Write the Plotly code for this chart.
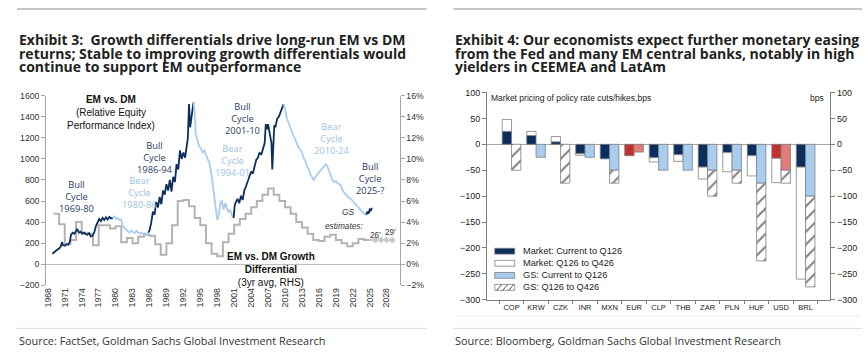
import plotly.graph_objects as go

W, H = 868, 357

# ---------------- Left chart data (Exhibit 3) ----------------
bull_1969_80_x = [1968.8, 1969.1, 1969.4, 1969.7, 1970.0, 1970.3, 1970.5, 1970.7, 1971.0, 1971.3, 1971.6, 1971.9,
                  1972.1, 1972.4, 1972.7, 1973.0, 1973.2, 1973.5, 1973.8, 1974.1, 1974.4, 1974.7, 1975.0, 1975.3,
                  1975.6, 1975.9, 1976.2, 1976.5, 1976.8, 1977.1, 1977.4, 1977.7, 1978.0, 1978.3, 1978.6, 1978.9,
                  1979.2, 1979.5]
bull_1969_80_y = [100, 115, 125, 140, 150, 170, 210, 180, 175, 190, 185, 215,
                  280, 300, 290, 320, 335, 300, 310, 290, 300, 285, 280, 295,
                  265, 270, 300, 360, 400, 430, 410, 440, 420, 445, 425, 450,
                  435, 440]

bear_1980_86_x = [1979.5, 1979.8, 1980.1, 1980.4, 1980.7, 1981.0, 1981.3, 1981.6, 1981.9, 1982.2, 1982.5, 1982.8,
                  1983.1, 1983.4, 1983.7, 1984.0, 1984.3, 1984.6, 1984.9, 1985.2, 1985.5, 1985.8]
bear_1980_86_y = [440, 455, 430, 440, 420, 425, 360, 340, 330, 310, 300, 320,
                  305, 295, 315, 300, 290, 300, 285, 295, 280, 300]

bull_1986_94_x = [1985.8, 1986.0, 1986.3, 1986.6, 1986.9, 1987.2, 1987.5, 1987.8, 1988.1, 1988.4, 1988.7, 1989.0,
                  1989.3, 1989.6, 1989.9, 1990.2, 1990.5, 1990.8, 1991.1, 1991.4, 1991.7, 1992.0, 1992.3, 1992.6,
                  1992.8, 1993.0, 1993.2, 1993.4, 1993.6, 1993.8]
bull_1986_94_y = [300, 320, 390, 500, 470, 590, 540, 640, 570, 700, 660, 760,
                  700, 800, 690, 830, 780, 950, 900, 1080, 1000, 1060, 1010, 1100,
                  1200, 1520, 1300, 1380, 1480, 1540]

bear_1994_01_x = [1993.8, 1994.0, 1994.2, 1994.5, 1994.8, 1995.1, 1995.4, 1995.7, 1996.0, 1996.3, 1996.6, 1996.9,
                  1997.2, 1997.5, 1997.8, 1998.0, 1998.2, 1998.5, 1998.8, 1999.1, 1999.4, 1999.7, 2000.0, 2000.3,
                  2000.6, 2000.9]
bear_1994_01_y = [1540, 1450, 1230, 1180, 1120, 1100, 1060, 1080, 1030, 1000, 960, 880,
                  760, 620, 500, 420, 450, 560, 610, 520, 580, 540, 490, 520,
                  460, 440]

bull_2001_10_x = [2000.9, 2001.1, 2001.3, 2001.6, 2001.9, 2002.2, 2002.5, 2002.8, 2003.1, 2003.4, 2003.7, 2004.0,
                  2004.3, 2004.6, 2004.9, 2005.2, 2005.5, 2005.8, 2006.1, 2006.4, 2006.6, 2006.8, 2007.0, 2007.2,
                  2007.4, 2007.6, 2007.75, 2007.9, 2008.1, 2008.3, 2008.6, 2008.9, 2009.2, 2009.5, 2009.75]
bull_2001_10_y = [440, 560, 590, 620, 580, 650, 610, 700, 740, 790, 820, 880,
                  860, 940, 990, 1010, 1060, 1040, 1100, 1150, 1330, 1280, 1330, 1270,
                  1240, 1150, 900, 1100, 1320, 1300, 1380, 1400, 1440, 1480, 1520]

bear_2010_24_x = [2009.75, 2010.0, 2010.3, 2010.6, 2010.9, 2011.2, 2011.5, 2011.8, 2012.1, 2012.4, 2012.7, 2013.0,
                  2013.3, 2013.6, 2013.9, 2014.2, 2014.5, 2014.8, 2015.1, 2015.4, 2015.7, 2016.0, 2016.3, 2016.6,
                  2016.9, 2017.2, 2017.5, 2017.8, 2018.1, 2018.4, 2018.7, 2019.0, 2019.3, 2019.6, 2019.9, 2020.2,
                  2020.5, 2020.8, 2021.1, 2021.4, 2021.7, 2022.0, 2022.3, 2022.6, 2022.9, 2023.2, 2023.5, 2023.8,
                  2024.1, 2024.4]
bear_2010_24_y = [1520, 1480, 1390, 1340, 1300, 1260, 1220, 1180, 1150, 1110, 1090, 1060,
                  1010, 980, 930, 900, 850, 820, 800, 830, 850, 860, 880, 900,
                  920, 950, 930, 880, 840, 800, 780, 790, 770, 760, 750, 700,
                  680, 650, 640, 630, 620, 600, 580, 560, 540, 530, 510, 490,
                  480, 470]

bull_2025_x = [2024.4, 2024.6, 2024.8, 2025.0, 2025.2, 2025.4]
bull_2025_y = [470, 500, 480, 520, 510, 535]

growth_years = list(range(1969, 2026))
growth_vals = [4.8, 3.8, 1.9, 2.3, 4.0, 3.0, 2.9, 1.8, 3.7, 3.7, 3.4, 3.6,
               2.1, 2.5, 2.0, 2.6, 2.8, 2.7, 1.9, 0.9, 2.0, 3.7, 6.0, 6.1,
               5.5, 4.4, 3.7, 2.0, 1.0, 0.75, 2.1, 2.9, 3.75, 4.3, 4.8, 5.4,
               6.0, 6.6, 7.2, 6.6, 6.0, 5.4, 4.8, 4.0, 3.5, 2.9, 2.3, 2.2,
               2.6, 2.8, 2.3, 2.0, 1.7, 2.0, 2.4, 2.3, 2.3]
est_years = [2025, 2026, 2027, 2028, 2029]
est_vals = [2.3, 2.3, 2.3, 2.3, 2.3]

year_ticks = list(range(1968, 2029, 3))

# ---------------- Right chart data (Exhibit 4) ----------------
categories = ['COP', 'KRW', 'CZK', 'INR', 'MXN', 'EUR', 'CLP', 'THB', 'ZAR', 'PLN', 'HUF', 'USD', 'BRL']
mkt_current_q126 = [25, 17, 5, -18, -28, -22, -26, -20, -44, -16, -22, -27, -44]
mkt_q126_q426 = [23, 8, 10, -3, 0, 0, -8, -13, -23, -37, -39, -47, -216]
gs_current_q126 = [0, -25, 0, -25, -50, -15, -50, -50, -50, -50, -75, -50, -100]
gs_q126_q426 = [-50, 0, -75, 0, -25, 0, 0, 0, -50, -25, -150, -25, -175]
dm_highlight = ['EUR', 'USD']

NAVY = '#0b2e5c'
LBLUE = '#a9cdee'
NAVY_TXT = '#1f3c66'
LBLUE_TXT = '#9cc3e6'
GRAY = '#b3b3b3'
RED = '#c3302f'
LRED = '#e37b7a'
AX = '#a6a6a6'
TICKF = dict(family='Liberation Sans, Arial, sans-serif', size=8.7, color='#333333')


def nz(v):
    return [None if a == 0 else a for a in v]


def px(x):
    return x / W


def py(y):
    return 1 - y / H


fig = go.Figure()

# growth differential (base y axis, right side, %)
fig.add_trace(go.Scatter(x=growth_years, y=growth_vals, mode='lines', line=dict(color=GRAY, width=2, shape='hv'),
                         xaxis='x', yaxis='y', showlegend=False, hoverinfo='skip'))
fig.add_trace(go.Scatter(x=est_years, y=est_vals, mode='lines+markers',
                         line=dict(color=GRAY, width=2, dash='dot'),
                         marker=dict(symbol='diamond', size=[0, 6, 6, 6, 6], color=GRAY),
                         xaxis='x', yaxis='y', showlegend=False, hoverinfo='skip'))

segments = [(bull_1969_80_x, bull_1969_80_y, NAVY), (bear_1980_86_x, bear_1980_86_y, LBLUE),
            (bull_1986_94_x, bull_1986_94_y, NAVY), (bear_1994_01_x, bear_1994_01_y, LBLUE),
            (bull_2001_10_x, bull_2001_10_y, NAVY), (bear_2010_24_x, bear_2010_24_y, LBLUE),
            (bull_2025_x, bull_2025_y, NAVY)]
for xs, ys, c in segments:
    fig.add_trace(go.Scatter(x=xs, y=ys, mode='lines', line=dict(color=c, width=1.8),
                             xaxis='x', yaxis='y2', showlegend=False, hoverinfo='skip'))

# ---------------- bars ----------------
mkt_cols = [RED if c in dm_highlight else NAVY for c in categories]
gs_cols = [LRED if c in dm_highlight else LBLUE for c in categories]
BW = 0.38
line = dict(color='#7f7f7f', width=0.8)
fig.add_trace(go.Bar(x=categories, y=nz(mkt_current_q126), width=BW, offset=-BW, marker=dict(color=mkt_cols, line=line),
                     xaxis='x3', yaxis='y3', name='Market: Current to Q126', showlegend=False))
fig.add_trace(go.Bar(x=categories, y=nz(mkt_q126_q426), base=mkt_current_q126, width=BW, offset=-BW,
                     marker=dict(color='white', line=line),
                     xaxis='x3', yaxis='y3', name='Market: Q126 to Q426', showlegend=False))
fig.add_trace(go.Bar(x=categories, y=nz(gs_current_q126), width=BW, offset=0, marker=dict(color=gs_cols, line=line),
                     xaxis='x3', yaxis='y3', name='GS: Current to Q126', showlegend=False))
fig.add_trace(go.Bar(x=categories, y=nz(gs_q126_q426), base=gs_current_q126, width=BW, offset=0,
                     marker=dict(color='white', line=line,
                                 pattern=dict(shape='/', fgcolor='#000000', bgcolor='white', size=9, solidity=0.22)),
                     xaxis='x3', yaxis='y3', name='GS: Q126 to Q426', showlegend=False))
fig.add_trace(go.Scatter(x=[categories[0]], y=[0], mode='markers', marker=dict(opacity=0),
                         xaxis='x3', yaxis='y4', showlegend=False, hoverinfo='skip'))

# ---------------- layout ----------------
ldom_x = [px(43.3), px(398)]
ldom_y = [py(288.4), py(93.3)]
rdom_x = [px(485.7), px(830)]
rdom_y = [py(303.3), py(90)]

fig.update_layout(
    width=W, height=H, margin=dict(l=0, r=0, t=0, b=0),
    paper_bgcolor='white', plot_bgcolor='white', barmode='overlay', showlegend=False,
    xaxis=dict(domain=ldom_x, range=[1967.7, 2030.3], tickvals=year_ticks, tickangle=-90,
               showgrid=False, zeroline=False, showline=False, ticks='', tickfont=TICKF, anchor='y'),
    yaxis=dict(domain=ldom_y, range=[-2, 16], dtick=2, ticksuffix='%', side='right', anchor='x',
               showgrid=False, zeroline=True, zerolinecolor='#bfbfbf', zerolinewidth=1,
               showline=True, linecolor=AX, ticks='outside', ticklen=4, tickcolor=AX, tickfont=TICKF),
    yaxis2=dict(range=[-200, 1600], dtick=200, side='left', overlaying='y', anchor='x',
                showgrid=False, zeroline=False, showline=True, linecolor=AX,
                ticks='outside', ticklen=4, tickcolor=AX, tickfont=TICKF),
    xaxis3=dict(domain=rdom_x, range=[-1, 13], type='category', anchor='y3', showgrid=False,
                showline=True, linecolor='#7f7f7f', ticks='outside', tickson='boundaries', ticklen=3,
                tickangle=0, tickcolor='#7f7f7f',
                tickfont=dict(family='Liberation Sans, Arial, sans-serif', size=7.5, color='#222')),
    yaxis3=dict(domain=rdom_y, range=[-300, 100], dtick=50, anchor='x3', showgrid=False,
                zeroline=True, zerolinecolor='#a6a6a6', zerolinewidth=1,
                showline=True, linecolor='#7f7f7f', ticks='outside', ticklen=4, tickcolor='#7f7f7f',
                tickfont=dict(family='Liberation Sans, Arial, sans-serif', size=9, color='#222')),
    yaxis4=dict(range=[-300, 100], dtick=50, overlaying='y3', side='right', anchor='x3', showgrid=False,
                zeroline=False, showline=True, linecolor='#7f7f7f', ticks='outside', ticklen=4,
                tickcolor='#7f7f7f', tickfont=dict(family='Liberation Sans, Arial, sans-serif', size=9, color='#222')),
)

ann = []
TF = dict(family='Open Sans, sans-serif', size=14, color='#222222', weight=700)
left_title = ['Exhibit 3:  Growth differentials drive long-run EM vs DM',
              'returns; Stable to improving growth differentials would',
              'continue to support EM outperformance']
right_title = ['Exhibit 4: Our economists expect further monetary easing',
               'from the Fed and many EM central banks, notably in high',
               'yielders in CEEMEA and LatAm']
for i, (lt, rt) in enumerate(zip(left_title, right_title)):
    yy = 36 + i * 13.7
    ann.append(dict(text=lt, x=px(14), y=py(yy), xanchor='left', yanchor='middle', font=TF))
    ann.append(dict(text=rt, x=px(452), y=py(yy), xanchor='left', yanchor='middle', font=TF))

SF = dict(family='Open Sans, sans-serif', size=10.9, color='#333333')
ann.append(dict(text='Source: FactSet, Goldman Sachs Global Investment Research', x=px(14), y=py(345),
                xanchor='left', yanchor='middle', font=SF))
ann.append(dict(text='Source: Bloomberg, Goldman Sachs Global Investment Research', x=px(452), y=py(345),
                xanchor='left', yanchor='middle', font=SF))

CF = 'Open Sans, sans-serif'
cycles = [('Bull<br>Cycle<br>1969-80', 74, 197, NAVY_TXT), ('Bear<br>Cycle<br>1980-86', 137.3, 193, LBLUE_TXT),
          ('Bull<br>Cycle<br>1986-94', 152.7, 157, NAVY_TXT), ('Bear<br>Cycle<br>1994-01', 230.7, 160, LBLUE_TXT),
          ('Bull<br>Cycle<br>2001-10', 240, 116.7, NAVY_TXT), ('Bear<br>Cycle<br>2010-24', 330, 137.7, LBLUE_TXT),
          ('Bull<br>Cycle<br>2025-?', 368.3, 178, NAVY_TXT)]
for t, x, y, c in cycles:
    ann.append(dict(text=t, x=px(x), y=py(y), xanchor='center', yanchor='middle',
                    font=dict(family=CF, size=9.3, color=c)))

AF = 'Liberation Sans, Arial, sans-serif'
ann.append(dict(text='<b>EM vs. DM</b><br>(Relative Equity<br>Performance Index)', x=px(108), y=py(111),
                xanchor='center', yanchor='middle', font=dict(family=AF, size=10, color='#111')))
ann.append(dict(text='<b>EM vs. DM Growth</b><br><b>Differential</b><br>(3yr avg, RHS)', x=px(269), y=py(272),
                xanchor='center', yanchor='middle', font=dict(family=AF, size=10, color='#111')))
ann.append(dict(text='<i>GS</i>', x=px(346.7), y=py(212.7), xanchor='center', yanchor='middle',
                font=dict(family=AF, size=8.5, color='#333')))
ann.append(dict(text='<i>estimates:</i>', x=px(342), y=py(227), xanchor='center', yanchor='middle',
                font=dict(family=AF, size=8.3, color='#333')))
ann.append(dict(text="26'", x=px(374), y=py(237), xanchor='center', yanchor='middle',
                font=dict(family=AF, size=8.3, color='#333')))
ann.append(dict(text="29'", x=px(389), y=py(234), xanchor='center', yanchor='middle',
                font=dict(family=AF, size=8.3, color='#333')))

ann.append(dict(text='Market pricing of policy rate cuts/hikes,bps', x=px(488), y=py(96), xanchor='left',
                yanchor='middle', font=dict(family=AF, size=8.5, color='#222')))
ann.append(dict(text='bps', x=px(826), y=py(96), xanchor='right', yanchor='middle',
                font=dict(family=AF, size=8.5, color='#222')))

legend_names = ['Market: Current to Q126', 'Market: Q126 to Q426', 'GS: Current to Q126', 'GS: Q126 to Q426']
legend_fill = [NAVY, 'white', LBLUE, 'white']
rows = [253.3, 265.7, 278.2, 290.5]
shapes = []
for name, fill, yc in zip(legend_names, legend_fill, rows):
    shapes.append(dict(type='rect', xref='paper', yref='paper', x0=px(493.5), x1=px(513.5), y0=py(yc + 3),
                       y1=py(yc - 3), fillcolor=fill, line=dict(color='#7f7f7f', width=0.8)))
    ann.append(dict(text=name, x=px(520), y=py(yc), xanchor='left', yanchor='middle',
                    font=dict(family=AF, size=9.2, color='#222')))
for o in [2, 8, 14]:
    shapes.append(dict(type='line', xref='paper', yref='paper', x0=px(493.5 + o), x1=px(493.5 + o + 5),
                       y0=py(rows[3] + 3), y1=py(rows[3] - 3), line=dict(color='#222', width=0.8)))

for xa, xb in [(14, 425), (452, 862)]:
    shapes.append(dict(type='line', xref='paper', yref='paper', x0=px(xa), x1=px(xb), y0=py(4), y1=py(4),
                       line=dict(color='#b3b3b3', width=1.5)))
    shapes.append(dict(type='line', xref='paper', yref='paper', x0=px(xa), x1=px(xb), y0=py(332.7), y1=py(332.7),
                       line=dict(color='#dcdcdc', width=1)))
shapes.append(dict(type='line', xref='paper', yref='paper', x0=px(455), x1=px(860), y0=py(320), y1=py(320),
                   line=dict(color='#eeeeee', width=1)))

for a in ann:
    a.update(xref='paper', yref='paper', showarrow=False)
fig.update_layout(annotations=ann, shapes=shapes)

fig.write_html('out.html', config={'displayModeBar': False},
               post_script="document.body.style.margin='0';document.body.style.overflow='hidden';")
